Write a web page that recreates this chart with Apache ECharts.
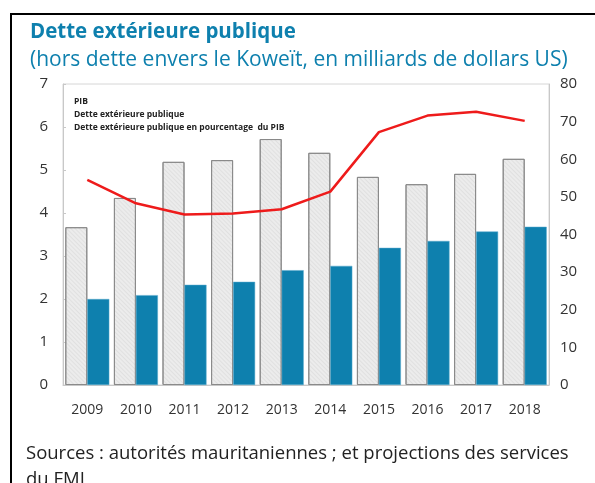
<!DOCTYPE html>
<html>
<head>
<meta charset="utf-8">
<script src="https://cdn.jsdelivr.net/npm/echarts@6/dist/echarts.min.js"></script>
<style>
  html, body { margin: 0; padding: 0; background: #fff; }
  #chart { width: 595px; height: 483px; }
</style>
</head>
<body>
<div id="chart"></div>
<script>
// years on the category axis
var years = ['2009', '2010', '2011', '2012', '2013', '2014', '2015', '2016', '2017', '2018']
// PIB, milliards USD (left axis)
var pib = [3.67, 4.35, 5.19, 5.23, 5.72, 5.40, 4.84, 4.67, 4.91, 5.26]
// dette extérieure publique, milliards USD (left axis)
var dette = [2.00, 2.09, 2.33, 2.40, 2.67, 2.77, 3.19, 3.35, 3.57, 3.68]
// dette en % du PIB (right axis)
var dettePct = [54.5, 48.3, 45.3, 45.6, 46.7, 51.4, 67.2, 71.6, 72.6, 70.2]

var font = '"Open Sans", "DejaVu Sans", sans-serif'
var blue = '#0e80ae'

var chart = echarts.init(document.getElementById('chart'), null, { renderer: 'canvas' })
chart.setOption({
  animation: false,
  textStyle: { fontFamily: font },
  title: [
    {
      text: 'Dette extérieure publique',
      left: 25,
      top: 17,
      textStyle: { fontFamily: font, fontSize: 20.5, fontWeight: 'bold', color: blue }
    },
    {
      text: '(hors dette envers le Koweït, en milliards de dollars US)',
      left: 25,
      top: 45,
      textStyle: { fontFamily: font, fontSize: 21, fontWeight: 'normal', color: blue }
    }
  ],
  legend: {
    orient: 'vertical',
    left: 63,
    top: 92,
    itemWidth: 0,
    itemHeight: 0,
    itemGap: 4,
    data: ['PIB', 'Dette extérieure publique', 'Dette extérieure publique en pourcentage  du PIB'],
    textStyle: { fontFamily: font, fontSize: 8.5, fontWeight: 'bold', color: '#222' }
  },
  grid: {
    left: 63,
    right: 46,
    top: 84,
    bottom: 98,
    show: true,
    borderColor: '#d6d6d6',
    borderWidth: 1
  },
  xAxis: {
    type: 'category',
    data: years,
    axisLine: { lineStyle: { color: '#c8c8c8' } },
    axisTick: { inside: true, length: 4, lineStyle: { color: '#c8c8c8' } },
    axisLabel: { fontFamily: font, fontSize: 14, color: '#333', margin: 18 }
  },
  yAxis: [
    {
      type: 'value',
      min: 0,
      max: 7,
      interval: 1,
      splitLine: { show: false },
      axisLine: { show: true, lineStyle: { color: '#c8c8c8' } },
      axisTick: { show: true, inside: true, length: 3, lineStyle: { color: '#c8c8c8' } },
      axisLabel: { fontFamily: font, fontSize: 15, color: '#333', margin: 15 }
    },
    {
      type: 'value',
      min: 0,
      max: 80,
      interval: 10,
      splitLine: { show: false },
      axisLine: { show: true, lineStyle: { color: '#c8c8c8' } },
      axisTick: { show: false },
      axisLabel: { fontFamily: font, fontSize: 15, color: '#333', margin: 11 }
    }
  ],
  series: [
    {
      name: 'PIB',
      type: 'bar',
      data: pib,
      barWidth: 22,
      barGap: '0%',
      itemStyle: {
        color: '#ececec',
        borderColor: '#8a8a8a',
        borderWidth: 1,
        decal: {
          symbol: 'rect',
          dashArrayX: [1, 0],
          dashArrayY: [1, 2],
          rotation: Math.PI / 4,
          color: 'rgba(0,0,0,0.05)'
        }
      }
    },
    {
      name: 'Dette extérieure publique',
      type: 'bar',
      data: dette,
      barWidth: 22,
      itemStyle: { color: blue, borderColor: '#5aa9cc', borderWidth: 0.5 }
    },
    {
      name: 'Dette extérieure publique en pourcentage  du PIB',
      type: 'line',
      yAxisIndex: 1,
      data: dettePct,
      symbol: 'none',
      lineStyle: { color: '#ee1b1b', width: 2.5 },
      itemStyle: { color: '#ee1b1b' },
      z: 5
    }
  ],
  graphic: [
    {
      type: 'rect',
      shape: { x: 11, y: 14, width: 700, height: 600 },
      style: { fill: 'none', stroke: '#000', lineWidth: 2 },
      silent: true
    },
    {
      type: 'text',
      left: 26,
      top: 441,
      style: {
        text: 'Sources : autorités mauritaniennes ; et projections des services\ndu FMI',
        fontFamily: font,
        fontSize: 18.5,
        lineHeight: 26,
        fill: '#222'
      }
    }
  ]
})
</script>
</body>
</html>
